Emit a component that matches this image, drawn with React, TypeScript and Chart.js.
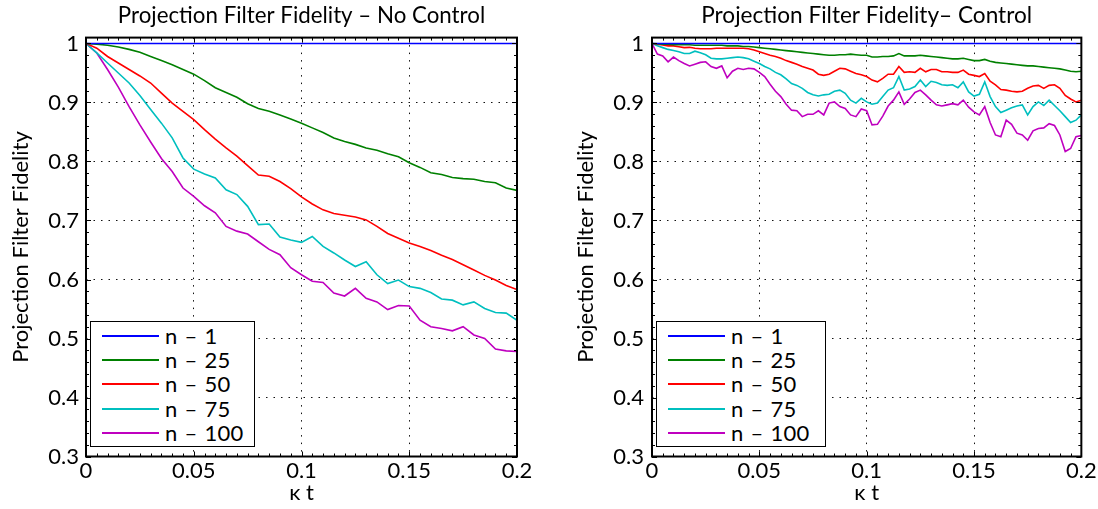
import React, { useEffect, useRef } from "react";
import { Chart, registerables } from "chart.js";

Chart.register(...registerables);

const FONT = "Lato, sans-serif";

const seriesLabels = ["n – 1", "n – 25", "n – 50", "n – 75", "n – 100"];
const seriesColors = ["#0000ff", "#008000", "#ff0000", "#00bfbf", "#bf00bf"];

const xTicks = [0, 0.05, 0.1, 0.15, 0.2];
const xTickLabels = ["0", "0.05", "0.1", "0.15", "0.2"];
const yTicks = [0.3, 0.4, 0.5, 0.6, 0.7, 0.8, 0.9, 1];
const yTickLabels = ["0.3", "0.4", "0.5", "0.6", "0.7", "0.8", "0.9", "1"];

const titleNoControl = "Projection Filter Fidelity – No Control";
const titleControl = "Projection Filter Fidelity– Control";
const xAxisTitle = "κ t";
const yAxisTitle = "Projection Filter Fidelity";

// ---- No control (left panel) ----
const tNoControl = [0, 0.005, 0.01, 0.015, 0.02, 0.025, 0.03, 0.035, 0.04, 0.045, 0.05, 0.055, 0.06, 0.065, 0.07, 0.075, 0.08, 0.085, 0.09, 0.095, 0.1, 0.105, 0.11, 0.115, 0.12, 0.125, 0.13, 0.135, 0.14, 0.145, 0.15, 0.155, 0.16, 0.165, 0.17, 0.175, 0.18, 0.185, 0.19, 0.195, 0.2];

const noCtrlN1 = [1, 1, 1, 1, 1, 1, 1, 1, 1, 1, 1, 1, 1, 1, 1, 1, 1, 1, 1, 1, 1, 1, 1, 1, 1, 1, 1, 1, 1, 1, 1, 1, 1, 1, 1, 1, 1, 1, 1, 1, 1];
const noCtrlN25 = [1, 0.999, 0.997, 0.994, 0.99, 0.985, 0.978, 0.971, 0.964, 0.956, 0.948, 0.937, 0.925, 0.917, 0.909, 0.898, 0.89, 0.885, 0.879, 0.872, 0.865, 0.857, 0.849, 0.84, 0.834, 0.829, 0.823, 0.819, 0.813, 0.808, 0.798, 0.79, 0.781, 0.778, 0.773, 0.771, 0.77, 0.766, 0.764, 0.755, 0.751];
const noCtrlN50 = [1, 0.992, 0.978, 0.967, 0.956, 0.945, 0.933, 0.916, 0.899, 0.885, 0.871, 0.854, 0.838, 0.823, 0.809, 0.793, 0.777, 0.775, 0.766, 0.754, 0.74, 0.728, 0.718, 0.712, 0.709, 0.706, 0.701, 0.69, 0.678, 0.67, 0.662, 0.656, 0.649, 0.641, 0.634, 0.625, 0.616, 0.607, 0.599, 0.59, 0.583];
const noCtrlN75 = [1, 0.984, 0.967, 0.95, 0.933, 0.912, 0.888, 0.865, 0.84, 0.806, 0.787, 0.779, 0.772, 0.752, 0.744, 0.724, 0.693, 0.694, 0.672, 0.667, 0.663, 0.673, 0.656, 0.645, 0.633, 0.622, 0.63, 0.608, 0.593, 0.599, 0.588, 0.585, 0.578, 0.567, 0.565, 0.557, 0.562, 0.551, 0.544, 0.543, 0.531];
const noCtrlN100 = [1, 0.984, 0.956, 0.926, 0.893, 0.862, 0.833, 0.805, 0.783, 0.755, 0.741, 0.725, 0.713, 0.69, 0.682, 0.677, 0.664, 0.651, 0.642, 0.62, 0.608, 0.597, 0.595, 0.577, 0.572, 0.585, 0.568, 0.562, 0.549, 0.556, 0.555, 0.531, 0.52, 0.517, 0.513, 0.52, 0.506, 0.5, 0.482, 0.479, 0.478];

// ---- Control (right panel) ----
const tControl = [0, 0.0025, 0.005, 0.0075, 0.01, 0.0125, 0.015, 0.0175, 0.02, 0.0225, 0.025, 0.0275, 0.03, 0.0325, 0.035, 0.0375, 0.04, 0.0425, 0.045, 0.0475, 0.05, 0.0525, 0.055, 0.0575, 0.06, 0.0625, 0.065, 0.0675, 0.07, 0.0725, 0.075, 0.0775, 0.08, 0.0825, 0.085, 0.0875, 0.09, 0.0925, 0.095, 0.0975, 0.1, 0.1025, 0.105, 0.1075, 0.11, 0.1125, 0.115, 0.1175, 0.12, 0.1225, 0.125, 0.1275, 0.13, 0.1325, 0.135, 0.1375, 0.14, 0.1425, 0.145, 0.1475, 0.15, 0.1525, 0.155, 0.1575, 0.16, 0.1625, 0.165, 0.1675, 0.17, 0.1725, 0.175, 0.1775, 0.18, 0.1825, 0.185, 0.1875, 0.19, 0.1925, 0.195, 0.1975, 0.2];

const ctrlN1 = [1, 1, 1, 1, 1, 1, 1, 1, 1, 1, 1, 1, 1, 1, 1, 1, 1, 1, 1, 1, 1, 1, 1, 1, 1, 1, 1, 1, 1, 1, 1, 1, 1, 1, 1, 1, 1, 1, 1, 1, 1, 1, 1, 1, 1, 1, 1, 1, 1, 1, 1, 1, 1, 1, 1, 1, 1, 1, 1, 1, 1, 1, 1, 1, 1, 1, 1, 1, 1, 1, 1, 1, 1, 1, 1, 1, 1, 1, 1, 1, 1];
const ctrlN25 = [1, 0.9995, 0.999, 0.999, 0.998, 0.998, 0.998, 0.998, 0.997, 0.997, 0.997, 0.997, 0.997, 0.997, 0.996, 0.996, 0.996, 0.995, 0.995, 0.994, 0.993, 0.992, 0.991, 0.99, 0.989, 0.988, 0.987, 0.986, 0.985, 0.984, 0.983, 0.982, 0.981, 0.98, 0.98, 0.981, 0.981, 0.982, 0.981, 0.98, 0.98, 0.977, 0.977, 0.978, 0.978, 0.979, 0.983, 0.979, 0.979, 0.979, 0.98, 0.979, 0.978, 0.977, 0.976, 0.975, 0.974, 0.974, 0.975, 0.973, 0.971, 0.971, 0.973, 0.97, 0.968, 0.967, 0.966, 0.965, 0.964, 0.963, 0.962, 0.962, 0.961, 0.96, 0.959, 0.958, 0.957, 0.955, 0.953, 0.952, 0.953];
const ctrlN50 = [1, 0.9986, 0.9975, 0.996, 0.996, 0.9946, 0.993, 0.9935, 0.992, 0.991, 0.991, 0.991, 0.992, 0.992, 0.992, 0.992, 0.992, 0.992, 0.991, 0.989, 0.986, 0.983, 0.98, 0.978, 0.975, 0.971, 0.968, 0.965, 0.961, 0.958, 0.955, 0.948, 0.946, 0.948, 0.953, 0.958, 0.957, 0.953, 0.949, 0.947, 0.944, 0.938, 0.935, 0.941, 0.948, 0.948, 0.961, 0.951, 0.952, 0.951, 0.958, 0.952, 0.956, 0.956, 0.952, 0.952, 0.951, 0.951, 0.955, 0.948, 0.946, 0.944, 0.949, 0.936, 0.93, 0.922, 0.921, 0.919, 0.918, 0.919, 0.924, 0.928, 0.929, 0.924, 0.929, 0.93, 0.924, 0.912, 0.906, 0.901, 0.904];
const ctrlN75 = [1, 0.996, 0.993, 0.99, 0.988, 0.986, 0.983, 0.983, 0.987, 0.9845, 0.981, 0.975, 0.974, 0.974, 0.975, 0.976, 0.977, 0.976, 0.974, 0.97, 0.966, 0.961, 0.957, 0.951, 0.947, 0.94, 0.932, 0.929, 0.924, 0.917, 0.913, 0.911, 0.913, 0.914, 0.919, 0.921, 0.9155, 0.904, 0.899, 0.907, 0.901, 0.897, 0.899, 0.91, 0.921, 0.925, 0.944, 0.921, 0.923, 0.927, 0.938, 0.927, 0.936, 0.934, 0.93, 0.929, 0.93, 0.925, 0.935, 0.918, 0.911, 0.914, 0.935, 0.91, 0.893, 0.883, 0.887, 0.891, 0.894, 0.896, 0.879, 0.893, 0.901, 0.895, 0.904, 0.895, 0.886, 0.876, 0.866, 0.87, 0.879];
const ctrlN100 = [1, 0.982, 0.979, 0.969, 0.977, 0.971, 0.966, 0.962, 0.965, 0.968, 0.969, 0.961, 0.958, 0.962, 0.942, 0.953, 0.958, 0.956, 0.958, 0.957, 0.951, 0.944, 0.931, 0.919, 0.91, 0.897, 0.887, 0.886, 0.876, 0.88, 0.88, 0.886, 0.879, 0.899, 0.901, 0.893, 0.89, 0.879, 0.876, 0.889, 0.886, 0.862, 0.863, 0.877, 0.894, 0.904, 0.918, 0.897, 0.906, 0.917, 0.921, 0.913, 0.904, 0.896, 0.894, 0.896, 0.898, 0.896, 0.904, 0.892, 0.884, 0.879, 0.893, 0.866, 0.845, 0.842, 0.87, 0.863, 0.848, 0.845, 0.836, 0.852, 0.856, 0.857, 0.864, 0.861, 0.845, 0.817, 0.822, 0.842, 0.844];

const matlabAxes = {
  id: "matlabAxes",
  afterDraw(chart: any) {
    const { ctx, chartArea: a, scales } = chart;
    const xs = scales.x;
    const ys = scales.y;
    ctx.save();
    ctx.strokeStyle = "#000";
    ctx.lineWidth = 1;
    ctx.beginPath();
    const tickX = (v: number, len: number) => {
      const px = Math.round(xs.getPixelForValue(v)) + 0.5;
      ctx.moveTo(px, a.bottom);
      ctx.lineTo(px, a.bottom - len);
      ctx.moveTo(px, a.top);
      ctx.lineTo(px, a.top + len);
    };
    const tickY = (v: number, len: number) => {
      const py = Math.round(ys.getPixelForValue(v)) + 0.5;
      ctx.moveTo(a.left, py);
      ctx.lineTo(a.left + len, py);
      ctx.moveTo(a.right, py);
      ctx.lineTo(a.right - len, py);
    };
    for (let i = 0; i < xTicks.length - 1; i++) {
      for (let k = 1; k < 10; k++) tickX(xTicks[i] + ((xTicks[i + 1] - xTicks[i]) * k) / 10, 3);
    }
    for (let i = 0; i < yTicks.length - 1; i++) {
      for (let k = 1; k < 5; k++) tickY(yTicks[i] + ((yTicks[i + 1] - yTicks[i]) * k) / 5, 3);
    }
    xTicks.forEach((v) => tickX(v, 5));
    yTicks.forEach((v) => tickY(v, 5));
    ctx.stroke();
    ctx.lineWidth = 2;
    ctx.strokeRect(a.left, a.top, a.right - a.left, a.bottom - a.top);
    ctx.restore();
  },
};

function makeConfig(
  title: string,
  titleSize: number,
  t: number[],
  series: number[][],
  yAxisWidth: number,
  rightPad: number,
  yTitlePad: number,
  yTickPad: number
): any {
  const font = { family: FONT, size: 22, weight: "normal" as const };
  const tFont = { family: FONT, size: titleSize, weight: "normal" as const };
  const tLine = titleSize * 1.2;
  return {
    type: "line",
    data: {
      datasets: series.map((vals, i) => ({
        label: seriesLabels[i],
        data: t.map((x, j) => ({ x, y: vals[j] })),
        borderColor: seriesColors[i],
        backgroundColor: seriesColors[i],
        borderWidth: 1.6,
        pointRadius: 0,
        fill: false,
        tension: 0,
      })),
    },
    options: {
      animation: false,
      responsive: false,
      maintainAspectRatio: false,
      events: [],
      layout: { padding: { left: 0, right: rightPad, top: 0, bottom: 0 } },
      plugins: {
        legend: { display: false },
        tooltip: { enabled: false },
        title: {
          display: true,
          text: title,
          color: "#000",
          font: tFont,
          fullSize: false,
          padding: { top: 16 - tLine / 2, bottom: 37.6 - (16 + tLine / 2) },
        },
      },
      scales: {
        x: {
          type: "linear",
          min: 0,
          max: 0.2,
          afterBuildTicks: (s: any) => {
            s.ticks = xTicks.map((v) => ({ value: v }));
          },
          afterFit: (s: any) => {
            s.height = 52.5;
          },
          ticks: {
            callback: (_v: any, i: number) => xTickLabels[i],
            color: "#000",
            font,
            padding: 1.3,
            maxRotation: 0,
            autoSkip: false,
          },
          grid: { color: "#111", lineWidth: 1, drawTicks: false },
          border: { display: false, dash: [1.5, 6] },
          title: { display: true, text: xAxisTitle, color: "#000", font, padding: { top: 0, bottom: 2.8 } },
        },
        y: {
          type: "linear",
          min: 0.3,
          max: 1.01,
          afterBuildTicks: (s: any) => {
            s.ticks = yTicks.map((v) => ({ value: v }));
          },
          afterFit: (s: any) => {
            s.width = yAxisWidth;
          },
          ticks: {
            callback: (_v: any, i: number) => yTickLabels[i],
            color: "#000",
            font,
            padding: yTickPad,
            autoSkip: false,
          },
          grid: { color: "#111", lineWidth: 1, drawTicks: false },
          border: { display: false, dash: [1.5, 6] },
          title: { display: true, text: yAxisTitle, color: "#000", font, padding: { top: yTitlePad, bottom: 0 } },
        },
      },
    },
    plugins: [matlabAxes],
  };
}

function ChartCanvas({ config, left, width, height }: { config: any; left: number; width: number; height: number }) {
  const ref = useRef<HTMLCanvasElement>(null);
  useEffect(() => {
    const chart = new Chart(ref.current as HTMLCanvasElement, config);
    return () => chart.destroy();
  }, []);
  return (
    <canvas
      ref={ref}
      width={width}
      height={height}
      style={{ position: "absolute", left, top: 0, width, height }}
    />
  );
}

function Legend({ left, top, width }: { left: number; top: number; width: number }) {
  return (
    <div
      style={{
        position: "absolute",
        left,
        top,
        width,
        height: 126,
        border: "1.5px solid #000",
        boxSizing: "border-box",
        background: "#fff",
        fontFamily: FONT,
        fontSize: 22,
        color: "#000",
      }}
    >
      {seriesLabels.map((lab, i) => (
        <div key={lab} style={{ position: "absolute", left: 0, top: 2 + 24.2 * i, height: 24, width: "100%" }}>
          <div style={{ position: "absolute", left: 11, width: 57, top: 11, height: 2, background: seriesColors[i] }} />
          <div
            style={{
              position: "absolute",
              left: 74,
              top: 0,
              lineHeight: "24px",
              whiteSpace: "nowrap",
              wordSpacing: 1,
              letterSpacing: 0.3,
            }}
          >
            {lab}
          </div>
        </div>
      ))}
    </div>
  );
}

export default function App() {
  const leftCfg = makeConfig(
    titleNoControl,
    22.3,
    tNoControl,
    [noCtrlN1, noCtrlN25, noCtrlN50, noCtrlN75, noCtrlN100],
    86,
    32,
    7.3,
    7
  );
  const rightCfg = makeConfig(
    titleControl,
    22.6,
    tControl,
    [ctrlN1, ctrlN25, ctrlN50, ctrlN75, ctrlN100],
    103,
    15,
    23.8,
    8
  );
  return (
    <div style={{ position: "absolute", left: 0, top: 0, width: 1098, height: 509, background: "#fff", overflow: "hidden" }}>
      <ChartCanvas config={leftCfg} left={0} width={549} height={509} />
      <ChartCanvas config={rightCfg} left={549} width={549} height={509} />
      <Legend left={90} top={321} width={165} />
      <Legend left={656} top={321} width={170} />
    </div>
  );
}
